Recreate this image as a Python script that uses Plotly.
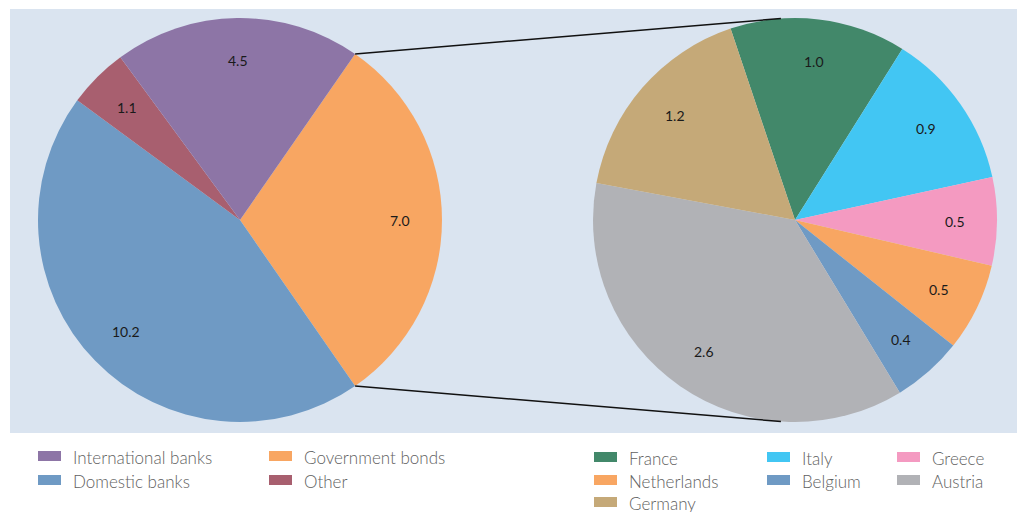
import math
import plotly.graph_objects as go

# ---- data -------------------------------------------------------------
# Holdings breakdown (left pie), listed clockwise from the 3 o'clock slice
holder_labels = ["Government bonds", "Domestic banks", "Other", "International banks"]
holder_values = [7.0, 10.2, 1.1, 4.5]

# Government bonds split by issuing country (right pie), clockwise from the top
country_labels = ["France", "Italy", "Greece", "Netherlands", "Belgium", "Austria", "Germany"]
country_values = [1.0, 0.9, 0.5, 0.5, 0.4, 2.6, 1.2]

# Legend layout (row-major order of the entries)
holder_legend_order = ["International banks", "Government bonds", "Domestic banks", "Other"]
country_legend_order = ["France", "Italy", "Greece", "Netherlands", "Belgium", "Austria", "Germany"]

# ---- style ------------------------------------------------------------
W, H = 1017, 512
holder_colors = {
    "Government bonds": "#f8a662",
    "Domestic banks": "#6f9ac4",
    "Other": "#a85f6f",
    "International banks": "#8d75a6",
}
country_colors = {
    "France": "#42886a",
    "Italy": "#42c6f3",
    "Greece": "#f49ac1",
    "Netherlands": "#f8a662",
    "Belgium": "#6f9ac4",
    "Austria": "#b1b2b6",
    "Germany": "#c5a978",
}
panel_color = "#dae4f0"
label_font = dict(family="Lato", size=14, color="#1a1a1a")
legend_font = dict(family="Lato", size=17, color="#616161", weight=300)

R = 202                       # pie radius, px
left_c = (240, 220)           # pie centres, px from top-left
right_c = (795, 220)
right_rotation = -18.6        # start angle of the country pie (deg, clockwise from 12)
label_r = 0.79                # radial position of value labels (fraction of R)
connector_offset = 4.0        # deg either side of 12/6 o'clock on the country pie


def px_to_paper(x, y):
    return x / W, 1 - y / H


def domain_for(c):
    x0, y1 = px_to_paper(c[0] - R, c[1] - R)
    x1, y0 = px_to_paper(c[0] + R, c[1] + R)
    return dict(x=[x0, x1], y=[y0, y1])


# Government bonds slice centred on 3 o'clock
gov_span = 360 * holder_values[0] / sum(holder_values)
left_rotation = 90 - gov_span / 2

fig = go.Figure()
fig.add_trace(go.Pie(
    labels=holder_labels, values=holder_values,
    marker=dict(colors=[holder_colors[l] for l in holder_labels], line=dict(width=0)),
    domain=domain_for(left_c), sort=False, direction="clockwise",
    rotation=left_rotation, textinfo="none", hoverinfo="label+value",
    showlegend=False,
))
fig.add_trace(go.Pie(
    labels=country_labels, values=country_values,
    marker=dict(colors=[country_colors[l] for l in country_labels], line=dict(width=0)),
    domain=domain_for(right_c), sort=False, direction="clockwise",
    rotation=right_rotation, textinfo="none", hoverinfo="label+value",
    showlegend=False,
))

annotations = []
shapes = []

# background panel
x0, y1 = px_to_paper(10, 9)
x1, y0 = px_to_paper(W, 433)
shapes.append(dict(type="rect", xref="paper", yref="paper", x0=x0, x1=x1, y0=y0, y1=y1,
                   fillcolor=panel_color, line=dict(width=0), layer="below"))


def value_labels(values, centre, rotation):
    total = sum(values)
    acc = 0.0
    for v in values:
        span = 360 * v / total
        mid = math.radians(rotation + acc + span / 2)
        acc += span
        px = centre[0] + label_r * R * math.sin(mid)
        py = centre[1] - label_r * R * math.cos(mid)
        ax, ay = px_to_paper(px, py)
        annotations.append(dict(x=ax, y=ay, xref="paper", yref="paper", text=f"{v:.1f}",
                                showarrow=False, font=label_font,
                                xanchor="center", yanchor="middle"))


value_labels(holder_values, left_c, left_rotation)
value_labels(country_values, right_c, right_rotation)

# connectors from the Government bonds slice edges to the country pie
half = math.radians(gov_span / 2)
off = math.radians(connector_offset)
for sgn in (-1, 1):
    sx = left_c[0] + R * math.cos(half)
    sy = left_c[1] + sgn * R * math.sin(half)
    ex = right_c[0] - R * math.sin(off)
    ey = right_c[1] + sgn * R * math.cos(off)
    a0x, a0y = px_to_paper(sx, sy)
    a1x, a1y = px_to_paper(ex, ey)
    shapes.append(dict(type="line", xref="paper", yref="paper", x0=a0x, y0=a0y, x1=a1x, y1=a1y,
                       line=dict(color="#111111", width=1.5)))


def legend_block(entries, colors, col_x, row_y, ncols):
    for i, name in enumerate(entries):
        cx = col_x[i % ncols]
        cy = row_y[i // ncols]
        bx0, by1 = px_to_paper(cx, cy - 5)
        bx1, by0 = px_to_paper(cx + 23, cy + 5)
        shapes.append(dict(type="rect", xref="paper", yref="paper", x0=bx0, x1=bx1, y0=by0, y1=by1,
                           fillcolor=colors[name], line=dict(width=0)))
        tx, ty = px_to_paper(cx + 33, cy + 1)
        annotations.append(dict(x=tx, y=ty, xref="paper", yref="paper", text=name,
                                showarrow=False, font=legend_font,
                                xanchor="left", yanchor="middle"))


legend_block(holder_legend_order, holder_colors, [38, 269], [456, 480], 2)
legend_block(country_legend_order, country_colors, [594, 767, 897], [457, 480, 502], 3)

fig.update_layout(
    width=W, height=H, margin=dict(l=0, r=0, t=0, b=0),
    paper_bgcolor="white", plot_bgcolor="white",
    shapes=shapes, annotations=annotations, showlegend=False,
)

fig.write_html("out.html")
